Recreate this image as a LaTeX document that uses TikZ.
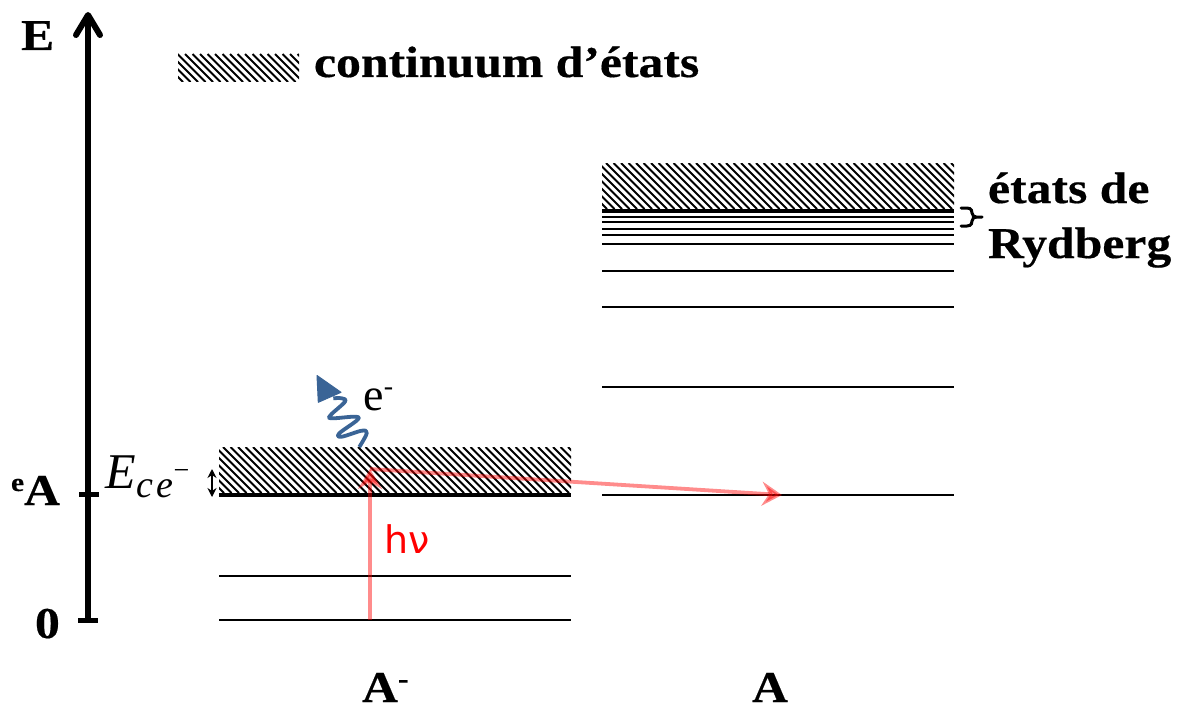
\documentclass[tikz,border=0pt]{standalone}
\usepackage{fontspec}
\setmainfont{Liberation Serif}
\newfontfamily\hvfont{DejaVu Sans}
\newfontfamily\bst[FakeStretch=1.13,FakeBold=0.4]{Liberation Serif Bold}
\newfontfamily\ita{Liberation Serif Italic}
\usetikzlibrary{arrows.meta}
\definecolor{eblue}{HTML}{3A6496}
\tikzset{
  x=0.5pt,y=-0.5pt,
  lvl/.style={line width=1pt,black},
  lvlthick/.style={line width=2pt,black},
  txt/.style={inner sep=0pt,outer sep=0pt,anchor=base west,font=\bst\fontsize{22}{22}\selectfont},
  redarrow/.style={line width=1.9pt,red,draw opacity=0.45,fill opacity=0.45,-{Stealth[length=10pt,width=12pt,inset=3.5pt]}},
}
\newcommand{\hatchbox}[4]{%
  \begin{scope}
    \clip (#1,#2) rectangle (#3,#4);
    \fill[white] (#1,#2) rectangle (#3,#4);
    \pgfmathsetmacro{\hs}{#1-(#4-#2)-10}
    \pgfmathsetmacro{\ht}{\hs+7.5}
    \foreach \hx in {\hs,\ht,...,#3}{
      \draw[line width=1pt,black] (\hx,#2) -- ++(#4-#2,#4-#2);
    }
  \end{scope}}
\begin{document}
\begin{tikzpicture}
\useasboundingbox (0,0) rectangle (1177,706);
\fill[white] (0,0) rectangle (1177,706);
% axis
\coordinate (axisbot) at (88,620);
\coordinate (axistop) at (88,16);
\coordinate (headL) at (76,35);
\coordinate (headR) at (100,35);
\draw[line width=3pt] (axisbot) -- (axistop);
\draw[line width=3pt,line cap=round,line join=round] (headL) -- (88,15) -- (headR);
\coordinate (t0a) at (78,620); \coordinate (t0b) at (98,620);
\coordinate (t1a) at (79,494.5); \coordinate (t1b) at (99,494.5);
\draw[line width=2.5pt] (t0a) -- (t0b);
\draw[line width=2.5pt] (t1a) -- (t1b);
\node[txt] (E) at (21,50) {E};
\node[txt] (zero) at (35,638) {0};
\node[txt] (eA) at (11,505) {\raisebox{7pt}{\fontsize{13}{13}\selectfont e}A};
% legend
\hatchbox{178}{54}{299}{82}
\node[txt] (cont) at (314,77) {continuum d’états};
% A- levels
\hatchbox{219}{447}{571}{493}
\draw[lvlthick] (219,494.5) -- (571,494.5);
\draw[lvl] (219,575.5) -- (571,575.5);
\draw[lvl] (219,620) -- (571,620);
% A levels
\hatchbox{602}{163}{954}{209}
\draw[lvlthick] (602,210.5) -- (954,210.5);
\foreach \ly in {216.7,222,229,235,244,270.5,306.7,387,495}{
  \draw[lvl] (602,\ly) -- (954,\ly);
}
% Rydberg bracket
\coordinate (bA) at (961,208);
\coordinate (bB) at (961,226);
\coordinate (bC) at (982,217);
\draw[line width=1.5pt,line cap=round] (bA) -- (967,208) .. controls (972,208) and (972,212) .. (972,213) .. controls (972,215) and (974,217) .. (976,217) -- (bC);
\draw[line width=1.5pt,line cap=round] (bB) -- (967,226) .. controls (972,226) and (972,222) .. (972,221) .. controls (972,219) and (974,217) .. (976,217);
\node[txt] (etats) at (988,203) {états de};
\node[txt] (ryd) at (988,258) {Rydberg};
% bottom labels
\node[txt] (Am) at (362,702) {A\raisebox{7pt}{\fontsize{14}{14}\selectfont -}};
\node[txt] (Aa) at (752,702) {A};
% E_ce-
\node[inner sep=0pt,anchor=base west] (Ece) at (105,488) {\ita\fontsize{25}{25}\selectfont E\kern0.5pt\raisebox{-4.5pt}{\fontsize{19}{19}\selectfont c\kern1.5pt e\raisebox{9pt}{\fontsize{14}{14}\selectfont\rmfamily −}}};
\coordinate (dbT) at (212,469);
\coordinate (dbB) at (212,497);
\draw[line width=0.8pt,{Stealth[length=4.5pt,width=4.5pt]}-{Stealth[length=4.5pt,width=4.5pt]}] (dbB) -- (dbT);
% photon arrows
\coordinate (g) at (370,620);
\coordinate (x) at (370,469);
\coordinate (f) at (782,495);
\draw[redarrow] (g) -- (x);
\draw[redarrow] (x) -- (f);
\node[inner sep=0pt,anchor=base west,text=red] (hv) at (384,553) {\hvfont\fontsize{19}{19}\selectfont hν};
% electron
\coordinate (w0) at (359.3,447);
\draw[eblue,line width=1.9pt,line join=round] plot[smooth,tension=0.6] coordinates {
  (w0) (366.7,433.3) (361.7,430.7) (341.7,436.7) (339.3,433.3) (357.3,420) (355,416.7) (331.7,418.3) (330.7,415) (345,401.7) (341.7,398.3) (333.3,398.3)};
\fill[eblue,draw=eblue,line width=0.5pt,line join=round] (317,375.5) -- (341,392.3) -- (318.3,402.3) -- cycle;
\node[inner sep=0pt,anchor=base west] (el) at (363,410) {\fontsize{23}{23}\selectfont e\raisebox{7.5pt}{\fontsize{14}{14}\selectfont -}};
\end{tikzpicture}
\end{document}
